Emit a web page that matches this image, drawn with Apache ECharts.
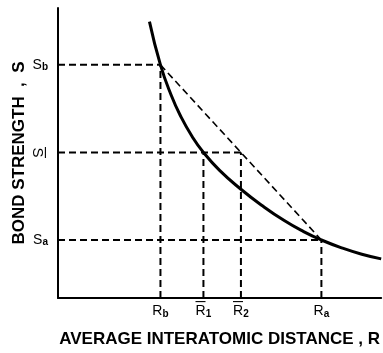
<!DOCTYPE html>
<html lang="en">
	<head>
		<meta charset="UTF-8" />
		<title>Bond strength vs interatomic distance</title>
		<script src="https://cdn.jsdelivr.net/npm/echarts@6/dist/echarts.min.js"></script>
		<style>
			* {
				margin: 0;
				padding: 0;
			}
			html,
			body {
				height: 100%;
				background: #fff;
			}
		</style>
	</head>
	<body>
		<div id="main" style="width:383px;height:353px;"></div>

		<script type="text/javascript">
			// curve (arbitrary units, 0..100 on both axes)
			var curveR = [28.3, 31.7, 35, 38, 41.5, 45, 50, 56.6, 63, 70, 76, 81.5, 88, 94, 100];
			var curveS = [95.3, 80.4, 70.0, 62.6, 55.7, 50.2, 44.0, 37.5, 32.0, 26.7, 22.9, 20.0, 17.2, 15.1, 13.5];

			// marked distances and strengths
			var rTicks = [31.7, 45.0, 56.6, 81.5]; // Rb, R1, R2, Ra
			var rTickText = [
				"{nobar| }{gap| }\n{r|R}{sub|b}",
				"{bar|\u2014}{gap| }\n{r|R}{sub|1}",
				"{bar|\u2014}{gap| }\n{r|R}{sub|2}",
				"{nobar| }{gap| }\n{r|R}{sub|a}"
			];
			var sTicks = [20.0, 80.4]; // Sa, Sb
			var sTickText = ["{r|S}{sub|a}", "{r|S}{sub|b}"];
			var sMean = [50.2];
			var sMeanText = ["{bar|\u2014}\n{r|S}"];

			var FONT = "Liberation Sans";
			var rb = rTicks[0], r1 = rTicks[1], r2 = rTicks[2], ra = rTicks[3];
			var sa = sTicks[0], sb = sTicks[1], sm = sMean[0];

			// dashed guide lines, built from the key values above
			var guides = [
				{ pts: [[0, sb], [rb, sb]], w: 2 },
				{ pts: [[0, sm], [r2, sm]], w: 2 },
				{ pts: [[0, sa], [ra, sa]], w: 2 },
				{ pts: [[rb, 0], [rb, sb]], w: 2 },
				{ pts: [[r1, 0], [r1, sm]], w: 2 },
				{ pts: [[r2, 0], [r2, sm]], w: 2 },
				{ pts: [[ra, 0], [ra, sa]], w: 2 },
				{ pts: [[rb, sb], [ra, sa]], w: 1.6 }
			];

			var richText = {
				r: { fontFamily: FONT, fontSize: 14, color: "#000", lineHeight: 15 },
				sub: { fontFamily: FONT, fontSize: 10, fontWeight: "bold", color: "#000", lineHeight: 4, verticalAlign: "bottom" },
				bar: { fontFamily: FONT, fontSize: 10, fontWeight: "bold", color: "#000", lineHeight: 4 },
				nobar: { fontFamily: FONT, fontSize: 10, color: "#000", lineHeight: 4, width: 10 },
				gap: { fontSize: 10, lineHeight: 4, width: 6 }
			};

			var series = guides.map(function(g) {
				return {
					type: "line",
					data: g.pts,
					symbol: "none",
					silent: true,
					z: 1,
					lineStyle: { color: "#000", width: g.w, type: [7, 4] }
				};
			});
			series.push({
				type: "line",
				data: curveR.map(function(r, i) {
					return [r, curveS[i]];
				}),
				symbol: "none",
				smooth: 0.5,
				z: 3,
				lineStyle: { color: "#000", width: 3 }
			});

			var option = {
				animation: false,
				grid: { left: 58, right: 0, top: 8, bottom: 46 },
				xAxis: {
					type: "value",
					min: 0,
					max: 100,
					name: "AVERAGE INTERATOMIC DISTANCE , R",
					nameLocation: "middle",
					nameGap: 33,
					nameMoveOverlap: false,
					nameTextStyle: { fontFamily: FONT, fontSize: 17, fontWeight: "bold", color: "#000", verticalAlign: "top" },
					axisLine: { lineStyle: { color: "#000", width: 2 } },
					axisTick: { show: false },
					splitLine: { show: false },
					axisLabel: {
						customValues: rTicks,
						margin: 2,
						formatter: function(v) {
							return rTickText[rTicks.indexOf(v)];
						},
						rich: richText
					}
				},
				yAxis: [
					{
						type: "value",
						min: 0,
						max: 100,
						name: "BOND STRENGTH  ,  S",
						nameLocation: "middle",
						nameGap: 30,
						nameMoveOverlap: false,
						nameTextStyle: { fontFamily: FONT, fontSize: 17, fontWeight: "bold", color: "#000" },
						axisLine: { show: true, lineStyle: { color: "#000", width: 2 } },
						axisTick: { show: false },
						splitLine: { show: false },
						axisLabel: {
							customValues: sTicks,
							margin: 10,
							formatter: function(v) {
								return sTickText[sTicks.indexOf(v)];
							},
							rich: richText
						}
					},
					{
						type: "value",
						min: 0,
						max: 100,
						position: "left",
						axisLine: { show: false },
						axisTick: { show: false },
						splitLine: { show: false },
						axisLabel: {
							customValues: sMean,
							rotate: -90,
							margin: 11,
							formatter: function(v) {
								return sMeanText[sMean.indexOf(v)];
							},
							rich: {
								r: { fontFamily: FONT, fontSize: 15, color: "#000", lineHeight: 13 },
								bar: { fontFamily: FONT, fontSize: 11, fontWeight: "bold", color: "#000", lineHeight: 3 }
							}
						}
					}
				],
				series: series
			};

			var myChart = echarts.init(document.getElementById("main"));
			myChart.setOption(option);
		</script>
	</body>
</html>
